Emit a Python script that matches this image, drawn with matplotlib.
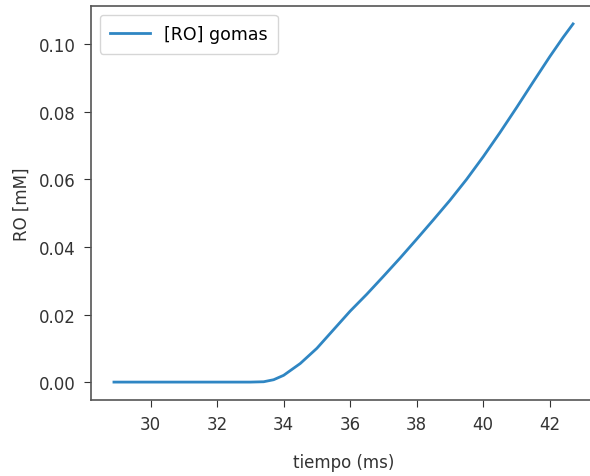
import matplotlib.pyplot as plt

# datos
tiempo = [28.9, 30.0, 31.0, 32.0, 33.0, 33.4, 33.7, 34.0, 34.5, 35.0, 35.5,
          36.0, 36.5, 37.0, 37.5, 38.0, 38.5, 39.0, 39.5, 40.0, 40.5,
          41.0, 41.5, 42.0, 42.4, 42.7]
ro_gomas = [0.0, 0.0, 0.0, 0.0, 0.0, 0.0001, 0.0007, 0.002, 0.0055, 0.010, 0.0155,
            0.021, 0.026, 0.0313, 0.0367, 0.0423, 0.048, 0.0538, 0.060, 0.0667, 0.0738,
            0.0812, 0.0888, 0.0963, 0.102, 0.106]


def main():
    fig = plt.figure(figsize=(5.9, 4.77), dpi=100)
    ax = fig.add_axes([91 / 590, 76 / 477, 505 / 590, 394 / 477])

    ax.plot(tiempo, ro_gomas, color="#2f86c3", linewidth=2, label="[RO] gomas")

    ax.set_xticks([30, 32, 34, 36, 38, 40, 42])
    ax.set_yticks([0.0, 0.02, 0.04, 0.06, 0.08, 0.10])
    ax.set_yticklabels(["0.00", "0.02", "0.04", "0.06", "0.08", "0.10"])
    ax.tick_params(labelsize=12, colors="#333333", length=5, pad=6)
    for s in ax.spines.values():
        s.set_color("#555555")
        s.set_linewidth(1.2)

    ax.set_xlabel("tiempo (ms)", fontsize=12, color="#333333", labelpad=14)
    ax.set_ylabel("RO [mM]", fontsize=12, color="#333333", labelpad=6)
    ax.legend(loc="upper left", fontsize=12.5, handlelength=2.3,
              borderpad=0.6)

    fig.savefig("out.png", dpi=100)


if __name__ == "__main__":
    main()
